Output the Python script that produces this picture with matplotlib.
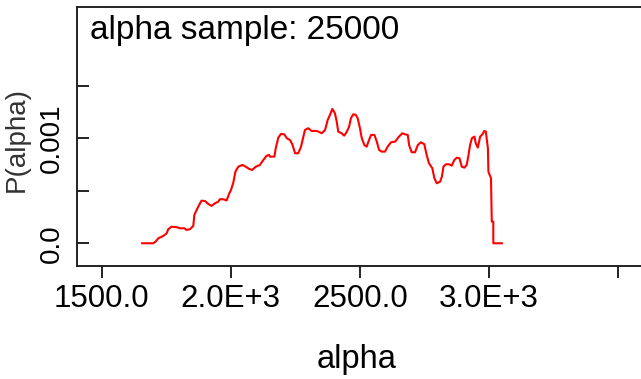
import matplotlib
matplotlib.use("Agg")
import matplotlib.pyplot as plt

plt.rcParams['font.family'] = ['Liberation Sans', 'DejaVu Sans']

# posterior density of alpha (sampled curve)
alpha_vals = [1657, 1700, 1709, 1720, 1739, 1752, 1758, 1771, 1791, 1803,
              1820, 1829, 1842, 1855, 1859, 1868, 1881, 1887, 1900, 1913,
              1926, 1939, 1952, 1958, 1971, 1984, 1995, 2001, 2010, 2018,
              2029, 2045, 2058, 2071, 2083, 2097, 2113, 2126, 2139, 2148,
              2152, 2169, 2174, 2184, 2194, 2207, 2217, 2229, 2238, 2249,
              2261, 2272, 2281, 2287, 2300, 2313, 2333, 2339, 2352, 2365,
              2375, 2384, 2393, 2403, 2410, 2416, 2429, 2439, 2449, 2458,
              2465, 2474, 2484, 2491, 2500, 2507, 2517, 2526, 2535, 2543,
              2556, 2565, 2574, 2584, 2597, 2607, 2620, 2636, 2651, 2664,
              2674, 2685, 2690, 2700, 2713, 2724, 2736, 2749, 2758, 2767,
              2780, 2788, 2797, 2810, 2817, 2823, 2832, 2845, 2855, 2865,
              2875, 2885, 2894, 2904, 2913, 2920, 2926, 2933, 2943, 2948,
              2956, 2965, 2974, 2981, 2987, 2995, 2997, 3007, 3010, 3016,
              3016, 3049]
p_alpha = [0.0, 0.0, 0.015, 0.048, 0.070, 0.095, 0.134, 0.158, 0.153, 0.143,
           0.143, 0.127, 0.134, 0.165, 0.270, 0.318, 0.381, 0.406, 0.403, 0.375,
           0.356, 0.381, 0.397, 0.420, 0.420, 0.408, 0.480, 0.508, 0.580, 0.683,
           0.730, 0.747, 0.730, 0.709, 0.699, 0.730, 0.747, 0.794, 0.835, 0.842,
           0.826, 0.826, 0.906, 1.007, 1.042, 1.039, 1.001, 0.985, 0.944, 0.858,
           0.858, 0.921, 1.017, 1.080, 1.097, 1.071, 1.071, 1.064, 1.049, 1.080,
           1.176, 1.224, 1.281, 1.240, 1.160, 1.064, 1.049, 1.026, 1.064, 1.112,
           1.192, 1.230, 1.224, 1.192, 1.097, 1.001, 0.937, 0.921, 0.985, 1.033,
           1.033, 0.969, 0.890, 0.874, 0.874, 0.921, 0.963, 0.969, 1.017, 1.049,
           1.039, 1.033, 0.937, 0.868, 0.868, 0.937, 0.963, 0.944, 0.842, 0.763,
           0.715, 0.620, 0.572, 0.587, 0.635, 0.730, 0.753, 0.753, 0.740, 0.794,
           0.816, 0.811, 0.730, 0.721, 0.747, 0.842, 0.937, 1.001, 1.017, 0.954,
           0.912, 1.017, 1.039, 1.071, 1.064, 0.906, 0.683, 0.620, 0.206, 0.206,
           0.0, 0.0]
p_alpha = [v * 1e-3 for v in p_alpha]

x_ticks = [1500, 2000, 2500, 3000, 3500]
x_labels = ['1500.0', '2.0E+3', '2500.0', '3.0E+3', '']
y_ticks = [0.0, 0.0005, 0.001, 0.0015]
y_labels = ['0.0', '', '0.001', '']

W, H = 641, 379
fig = plt.figure(figsize=(W / 100, H / 100), dpi=100)
ax = fig.add_axes([77 / W, (H - 265.5) / H, (660 - 77) / W, (265.5 - 7.3) / H])

ax.plot(alpha_vals, p_alpha, color='#ff0000', lw=1.5)

ax.set_xlim(1405, 3661)
ax.set_ylim(-0.000212, 0.00225)

for side in ['left', 'bottom', 'top']:
    ax.spines[side].set_linewidth(1.4)
    ax.spines[side].set_color('#222222')
ax.spines['right'].set_visible(False)

ax.set_xticks(x_ticks)
ax.set_xticklabels(x_labels)
ax.set_yticks(y_ticks)
ax.set_yticklabels(y_labels, rotation=90, va='center')
ax.tick_params(axis='x', direction='out', length=8.6, width=1.4,
               color='#222222', labelsize=22.5, pad=5)
ax.tick_params(axis='y', direction='in', length=8.6, width=1.4,
               color='#222222', labelsize=20, pad=8.6)

fig.text(90 / W, 1 - 39.3 / H, 'alpha sample: 25000', fontsize=24,
         ha='left', va='baseline')
fig.text(357 / W, 1 - 368 / H, 'alpha', fontsize=23.5,
         ha='center', va='baseline')
fig.text(17 / W, 1 - 140 / H, 'P(alpha)', fontsize=20, rotation=90,
         ha='center', va='center', color='#333333')

fig.savefig('out.png', dpi=100)
